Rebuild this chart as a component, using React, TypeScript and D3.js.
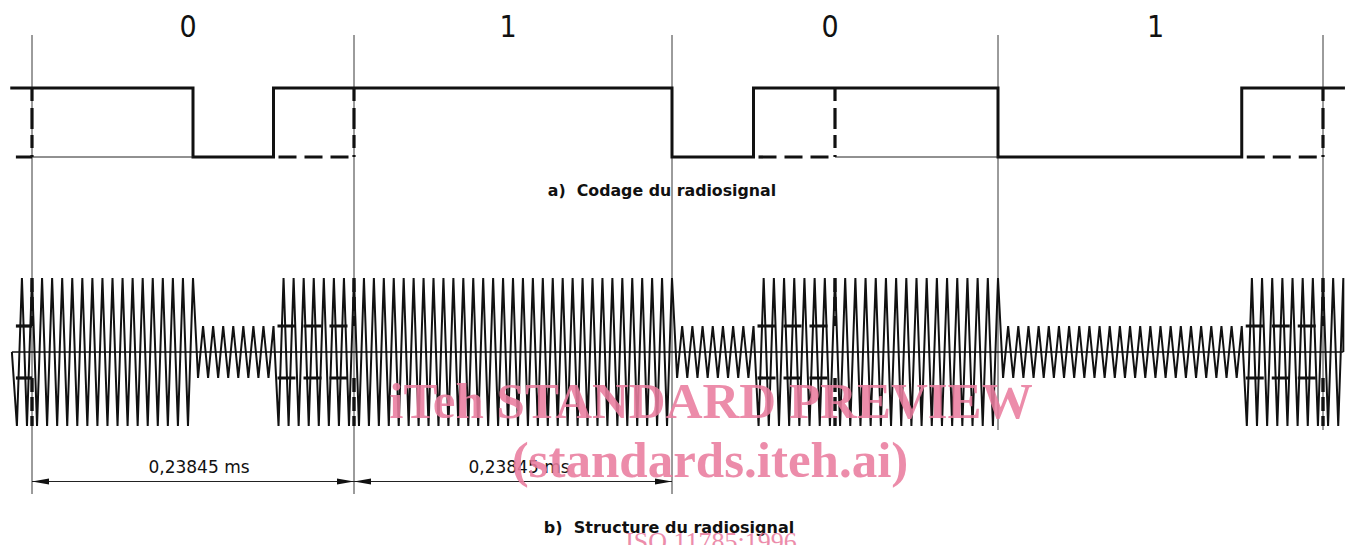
import React, { useEffect, useRef } from "react";
import * as d3 from "d3";

// bits of the example and the coded level of each quarter bit (1 = high, 0 = low)
const bits = ["0", "1", "0", "1"];
const quarterLevels = [1, 1, 0, 1, 1, 1, 1, 1, 0, 1, 1, 1, 0, 0, 0, 1];

// alternative coding (dashed) : low quarters and the edges drawn dashed
const altLowSpans = [[3, 4], [9, 10], [15, 16]];
const altEdges = [0, 4, 10, 16];
const thinLowSpans = [[0, 2], [10, 12]];
const leftStub = [-0.2, 0];

// bit boundaries (in quarters) and the time dimensions
const boundaries = [0, 4, 8, 12, 16];
const longGuides = [0, 4, 8];
const dimensionSpans = [[0, 4], [4, 8]];
const dimensionLabel = "0,23845 ms";
const cyclesPerQuarter = 8;

const captions = ["a)  Codage du radiosignal", "b)  Structure du radiosignal"];
const watermark = ["iTeh STANDARD PREVIEW", "(standards.iteh.ai)", "ISO 11785:1996"];

const App = () => {
  const ref = useRef<SVGSVGElement>(null);

  useEffect(() => {
    const width = 1362;
    const height = 545;
    const font = "'DejaVu Sans', sans-serif";

    const svg = d3.select(ref.current)
      .attr("width", width)
      .attr("height", height)
      .style("background", "white");
    svg.selectAll("*").remove();

    const x = d3.scaleLinear().domain(boundaries).range([32, 354, 672, 998, 1323]);
    const yTop = d3.scaleLinear().domain([0, 1]).range([157, 88]);
    const amp = d3.scaleLinear().domain([0, 1]).range([26, 74]);
    const yc = 352;

    const levelAt = (t: number) => {
      const q = Math.max(0, Math.min(15, Math.floor(t - 1e-6)));
      return quarterLevels[q];
    };

    // === guide lines ===
    boundaries.forEach((b) => {
      svg.append("line")
        .attr("x1", x(b)).attr("x2", x(b))
        .attr("y1", 35)
        .attr("y2", longGuides.includes(b) ? 494 : yc + amp(1) + 4)
        .attr("stroke", "#222")
        .attr("stroke-width", 0.9);
    });

    // bit labels
    bits.forEach((b, i) => {
      svg.append("text")
        .attr("x", x(i * 4 + 2) - 5)
        .attr("y", 37)
        .attr("text-anchor", "middle")
        .attr("font-family", "'DejaVu Sans Condensed', 'DejaVu Sans', sans-serif")
        .attr("font-size", 30)
        .attr("fill", "#111")
        .text(b);
    });

    // === a) coding ===
    const pts: [number, number][] = [[-0.27, 1]];
    quarterLevels.forEach((v, i) => pts.push([i, v]));
    pts.push([16, 1], [16.27, 1]);
    const stepLine = d3.line<[number, number]>()
      .x((d) => x(d[0]))
      .y((d) => yTop(d[1]))
      .curve(d3.curveStepAfter);

    svg.append("path")
      .attr("d", stepLine(pts))
      .attr("fill", "none")
      .attr("stroke", "#111")
      .attr("stroke-width", 3);

    thinLowSpans.forEach(([a, b]) => {
      svg.append("line")
        .attr("x1", x(a)).attr("x2", x(b))
        .attr("y1", yTop(0)).attr("y2", yTop(0))
        .attr("stroke", "#222").attr("stroke-width", 1);
    });

    svg.append("line")
      .attr("x1", x(leftStub[0])).attr("x2", x(leftStub[1]))
      .attr("y1", yTop(0)).attr("y2", yTop(0))
      .attr("stroke", "#111").attr("stroke-width", 3);

    altLowSpans.forEach(([a, b]) => {
      svg.append("line")
        .attr("x1", x(a) + 5).attr("x2", x(b) - 3)
        .attr("y1", yTop(0)).attr("y2", yTop(0))
        .attr("stroke", "#111").attr("stroke-width", 3.2)
        .attr("stroke-dasharray", "18,8");
    });

    altEdges.forEach((e) => {
      svg.append("line")
        .attr("x1", x(e)).attr("x2", x(e))
        .attr("y1", yTop(1)).attr("y2", yTop(0))
        .attr("stroke", "#111").attr("stroke-width", 3.2)
        .attr("stroke-dasharray", "13,7,21,6");
    });

    svg.append("text")
      .attr("x", 662).attr("y", 196)
      .attr("text-anchor", "middle")
      .attr("font-family", font)
      .attr("font-weight", "bold")
      .attr("font-size", 15.8)
      .style("white-space", "pre")
      .attr("fill", "#111")
      .text(captions[0]);

    // === b) radiosignal ===
    svg.append("line")
      .attr("x1", x(-0.25)).attr("x2", x(16.25))
      .attr("y1", yc).attr("y2", yc)
      .attr("stroke", "#111").attr("stroke-width", 1.5);

    const wave: [number, number][] = [[x(-0.25), yc]];
    for (let k = -3; k <= 16 * 2 * cyclesPerQuarter + 4; k++) {
      const t = k / (2 * cyclesPerQuarter);
      const a = amp(levelAt(t));
      wave.push([x(t), k % 2 === 0 ? yc - a : yc + a]);
    }
    wave.push([x(16.25), yc]);

    svg.append("path")
      .attr("d", d3.line()(wave))
      .attr("fill", "none")
      .attr("stroke", "#111")
      .attr("stroke-width", 2)
      .attr("stroke-linejoin", "miter");

    const altSpans = [leftStub, ...altLowSpans];
    altSpans.forEach(([a, b], i) => {
      [yc - amp(0), yc + amp(0)].forEach((yy) => {
        svg.append("line")
          .attr("x1", x(a) + (i === 0 ? 0 : 4)).attr("x2", x(b))
          .attr("y1", yy).attr("y2", yy)
          .attr("stroke", "#111").attr("stroke-width", 3.2)
          .attr("stroke-dasharray", i === 0 ? null : "18,8");
      });
    });

    altEdges.forEach((e) => {
      [[yc - amp(1), yc - amp(0)], [yc + amp(0), yc + amp(1)]].forEach(([y1, y2]) => {
        svg.append("line")
          .attr("x1", x(e)).attr("x2", x(e))
          .attr("y1", y1).attr("y2", y2)
          .attr("stroke", "#111").attr("stroke-width", 3.4)
          .attr("stroke-dasharray", "14,5");
      });
    });

    // dimensions
    const dimY = 481.5;
    dimensionSpans.forEach(([a, b]) => {
      const x0 = x(a);
      const x1 = x(b);
      svg.append("line")
        .attr("x1", x0).attr("x2", x1)
        .attr("y1", dimY).attr("y2", dimY)
        .attr("stroke", "#222").attr("stroke-width", 1);
      svg.append("path")
        .attr("d", `M${x0},${dimY}L${x0 + 17},${dimY - 3}L${x0 + 17},${dimY + 3}Z`)
        .attr("fill", "#111");
      svg.append("path")
        .attr("d", `M${x1},${dimY}L${x1 - 17},${dimY - 3}L${x1 - 17},${dimY + 3}Z`)
        .attr("fill", "#111");
      svg.append("text")
        .attr("x", (x0 + x1) / 2 + 6)
        .attr("y", 473)
        .attr("text-anchor", "middle")
        .attr("font-family", font)
        .attr("font-size", 17)
        .attr("fill", "#111")
        .text(dimensionLabel);
    });

    svg.append("text")
      .attr("x", 669).attr("y", 533)
      .attr("text-anchor", "middle")
      .attr("font-family", font)
      .attr("font-weight", "bold")
      .attr("font-size", 16)
      .style("white-space", "pre")
      .attr("fill", "#111")
      .text(captions[1]);

    // watermark
    const wm = svg.append("g")
      .attr("fill", "#ea7d9f")
      .attr("opacity", 0.88)
      .attr("font-family", "'Liberation Serif', serif")
      .attr("text-anchor", "middle");
    wm.append("text").attr("x", 711).attr("y", 418)
      .attr("font-size", 51).attr("font-weight", "bold").text(watermark[0]);
    wm.append("text").attr("x", 710).attr("y", 477)
      .attr("font-size", 51).attr("font-weight", "bold").text(watermark[1]);
    wm.append("text").attr("x", 711).attr("y", 550)
      .attr("font-size", 26).text(watermark[2]);
  }, []);

  return (
    <svg ref={ref} style={{ position: "absolute", left: 0, top: 0, display: "block" }}></svg>
  );
};

export default App;
